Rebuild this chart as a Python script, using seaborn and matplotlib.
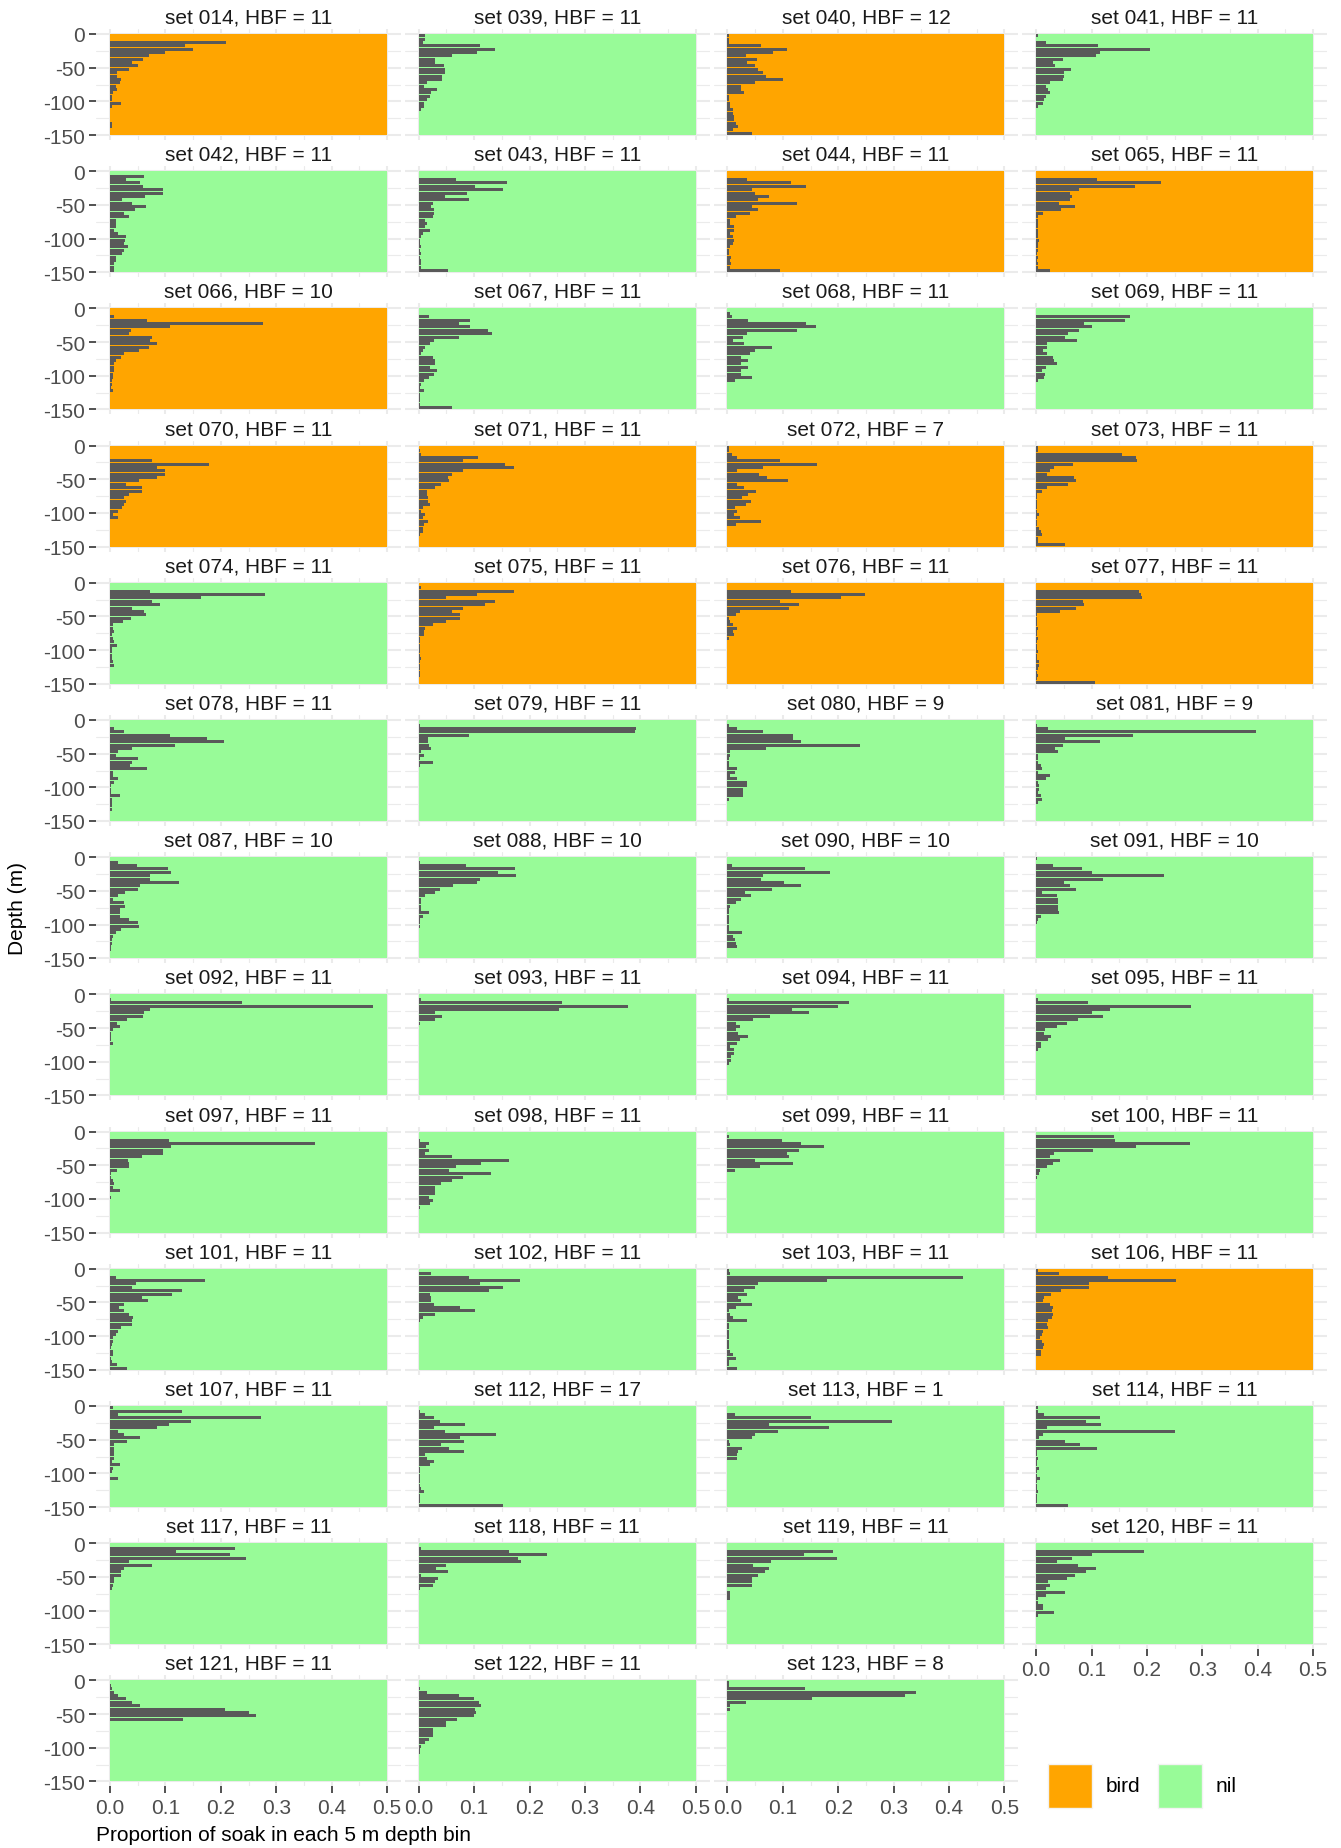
import numpy as np
import pandas as pd
import matplotlib
matplotlib.use("Agg")
import matplotlib.pyplot as plt
from matplotlib.patches import Rectangle
import seaborn as sns

# ---------------- data ----------------
sets = ["014", "039", "040", "041", "042", "043", "044", "065", "066", "067", "068", "069",
        "070", "071", "072", "073", "074", "075", "076", "077", "078", "079", "080", "081",
        "087", "088", "090", "091", "092", "093", "094", "095", "097", "098", "099", "100",
        "101", "102", "103", "106", "107", "112", "113", "114", "117", "118", "119", "120",
        "121", "122", "123"]
hbf = [11, 11, 12, 11, 11, 11, 11, 11, 10, 11, 11, 11,
       11, 11, 7, 11, 11, 11, 11, 11, 11, 11, 9, 9,
       10, 10, 10, 10, 11, 11, 11, 11, 11, 11, 11, 11,
       11, 11, 11, 11, 11, 17, 1, 11, 11, 11, 11, 11,
       11, 11, 8]
bait = ["bird", "nil", "bird", "nil", "nil", "nil", "bird", "bird", "bird", "nil", "nil", "nil",
        "bird", "bird", "bird", "bird", "nil", "bird", "bird", "bird", "nil", "nil", "nil", "nil",
        "nil", "nil", "nil", "nil", "nil", "nil", "nil", "nil", "nil", "nil", "nil", "nil",
        "nil", "nil", "nil", "bird", "nil", "nil", "nil", "nil", "nil", "nil", "nil", "nil",
        "nil", "nil", "nil"]

# proportion of soak per 5 m depth bin, from the surface (0-5 m) downwards
p014 = [0, 0, 0.21, 0.135, 0.15, 0.10, 0.07, 0.06, 0.04, 0.05, 0.035, 0.013, 0.013, 0.02, 0.018, 0.01, 0.012, 0.005, 0.003, 0.004, 0.02, 0.004, 0, 0, 0, 0, 0.003, 0.003]
p039 = [0.012, 0.012, 0.008, 0.11, 0.137, 0.105, 0.06, 0.03, 0.03, 0.045, 0.047, 0.047, 0.042, 0.042, 0.015, 0.01, 0.033, 0.023, 0.02, 0.015, 0.01, 0.01, 0.005]
p040 = [0.003, 0.003, 0.003, 0.06, 0.108, 0.082, 0.033, 0.053, 0.035, 0.05, 0.055, 0.065, 0.07, 0.1, 0.05, 0.025, 0.025, 0.03, 0.003, 0.003, 0.004, 0.005, 0.01, 0.01, 0.012, 0.012, 0.015, 0.02, 0.01, 0.045]
p041 = [0.003, 0, 0.018, 0.111, 0.206, 0.115, 0.108, 0.048, 0.03, 0.035, 0.063, 0.05, 0.05, 0.048, 0.025, 0.018, 0.022, 0.025, 0.018, 0.015, 0.012, 0.003]
p042 = [0, 0.062, 0.028, 0.055, 0.06, 0.095, 0.095, 0.063, 0.022, 0.04, 0.065, 0.045, 0.025, 0.035, 0.01, 0.01, 0.01, 0.008, 0.015, 0.028, 0.027, 0.025, 0.033, 0.025, 0.022, 0.01, 0.01, 0.008, 0.007, 0.007]
p043 = [0, 0, 0.068, 0.16, 0.102, 0.152, 0.087, 0.048, 0.09, 0.025, 0.022, 0.028, 0.028, 0.025, 0.012, 0.015, 0.012, 0.02, 0.007, 0.005, 0.003, 0.003, 0.005, 0.003, 0.005, 0.003, 0.005, 0.005, 0.005, 0.052]
p044 = [0, 0, 0.035, 0.115, 0.142, 0.045, 0.05, 0.075, 0.055, 0.125, 0.045, 0.055, 0.04, 0.015, 0.005, 0.005, 0.012, 0.012, 0.005, 0.01, 0.012, 0.01, 0.005, 0.003, 0.002, 0.007, 0.005, 0.007, 0.005, 0.095]
p065 = [0, 0, 0.11, 0.225, 0.178, 0.078, 0.062, 0.065, 0.062, 0.042, 0.07, 0.045, 0.012, 0.003, 0.003, 0.003, 0.003, 0.003, 0.003, 0.003, 0.005, 0.003, 0.003, 0.003, 0.002, 0.003, 0.002, 0.003, 0.003, 0.025]
p066 = [0, 0, 0.008, 0.067, 0.277, 0.108, 0.038, 0.035, 0.075, 0.073, 0.085, 0.07, 0.052, 0.025, 0.02, 0.01, 0.008, 0.008, 0.008, 0.005, 0.005, 0.003, 0.003, 0.002, 0.005]
p067 = [0, 0, 0.018, 0.093, 0.073, 0.092, 0.125, 0.132, 0.072, 0.027, 0.02, 0.012, 0.008, 0.005, 0.025, 0.03, 0.03, 0.02, 0.033, 0.028, 0.018, 0.01, 0.005, 0.003, 0.01, 0.003, 0.003, 0.002, 0.002, 0.06]
p068 = [0, 0.005, 0.008, 0.038, 0.142, 0.16, 0.125, 0.035, 0.028, 0.01, 0.03, 0.08, 0.05, 0.04, 0.025, 0.038, 0.025, 0.038, 0.025, 0.025, 0.045, 0.014]
p069 = [0, 0, 0.17, 0.16, 0.087, 0.1, 0.077, 0.058, 0.052, 0.073, 0.02, 0.02, 0.013, 0.02, 0.03, 0.033, 0.038, 0.018, 0.01, 0.016, 0.015, 0.004]
p070 = [0, 0, 0, 0, 0.075, 0.178, 0.085, 0.1, 0.1, 0.085, 0.052, 0.028, 0.058, 0.058, 0.035, 0.025, 0.028, 0.025, 0.022, 0.015, 0.005, 0.015]
p071 = [0, 0.003, 0.005, 0.107, 0.08, 0.155, 0.172, 0.08, 0.06, 0.052, 0.055, 0.04, 0.03, 0.015, 0.015, 0.016, 0.016, 0.02, 0.008, 0.005, 0.012, 0.007, 0.017, 0.01, 0.007, 0.007, 0.002]
p072 = [0.002, 0.002, 0.008, 0.018, 0.095, 0.162, 0.065, 0.017, 0.057, 0.072, 0.11, 0.017, 0.03, 0.052, 0.037, 0.027, 0.043, 0.033, 0.013, 0.018, 0.012, 0.022, 0.06, 0.016]
p073 = [0.003, 0.003, 0.155, 0.18, 0.182, 0.067, 0.032, 0.025, 0.02, 0.068, 0.072, 0.058, 0.02, 0.01, 0.002, 0.002, 0.002, 0.002, 0.002, 0.002, 0.005, 0.002, 0.002, 0.002, 0.005, 0.008, 0.01, 0.003, 0.003, 0.052]
p074 = [0, 0, 0.072, 0.28, 0.165, 0.075, 0.09, 0.04, 0.062, 0.065, 0.038, 0.024, 0.005, 0.005, 0.007, 0.003, 0.006, 0.008, 0.012, 0.003, 0.003, 0.004, 0.004, 0.006, 0.007]
p075 = [0, 0.005, 0.172, 0.105, 0.05, 0.137, 0.12, 0.08, 0.06, 0.075, 0.075, 0.05, 0.025, 0.012, 0.01, 0.01, 0.003, 0.003, 0.003, 0.002, 0.002, 0.003, 0.005, 0.002, 0.002, 0.002, 0.002, 0.002]
p076 = [0, 0, 0.115, 0.248, 0.205, 0.095, 0.13, 0.112, 0.022, 0.015, 0.003, 0.005, 0.01, 0.017, 0.01, 0.012, 0.003]
p077 = [0, 0, 0.185, 0.19, 0.192, 0.085, 0.087, 0.072, 0.043, 0.002, 0.002, 0.002, 0.002, 0.003, 0.002, 0.002, 0.003, 0.002, 0.002, 0.002, 0.003, 0.002, 0.002, 0.005, 0.005, 0.003, 0.002, 0.003, 0.002, 0.107]
p078 = [0, 0, 0.008, 0.025, 0.108, 0.175, 0.205, 0.118, 0.04, 0.015, 0.01, 0.05, 0.04, 0.037, 0.067, 0.005, 0.005, 0.015, 0.007, 0.002, 0.002, 0.002, 0.018, 0.003, 0.003, 0.003, 0.003]
p079 = [0, 0.003, 0.393, 0.39, 0.09, 0.016, 0.016, 0.018, 0.022, 0.005, 0.01, 0.003, 0.025, 0.002]
p080 = [0, 0.003, 0.018, 0.065, 0.118, 0.118, 0.132, 0.24, 0.07, 0.005, 0.005, 0.003, 0.003, 0.003, 0.018, 0.013, 0.005, 0.018, 0.035, 0.035, 0.028, 0.028, 0.028, 0.003]
p081 = [0, 0.002, 0.022, 0.397, 0.175, 0.052, 0.115, 0.048, 0.035, 0.04, 0.003, 0.003, 0.003, 0.008, 0.01, 0.003, 0.025, 0.018, 0.003, 0.005, 0.005, 0.003, 0.008, 0.01, 0.003]
p087 = [0, 0.015, 0.048, 0.105, 0.11, 0.072, 0.072, 0.125, 0.055, 0.05, 0.027, 0.015, 0.005, 0.025, 0.027, 0.018, 0.018, 0.018, 0.035, 0.05, 0.052, 0.02, 0.01, 0.005, 0.004, 0.003, 0.002, 0.002]
p088 = [0, 0.003, 0.085, 0.173, 0.143, 0.175, 0.11, 0.105, 0.062, 0.038, 0.03, 0.012, 0.005, 0.005, 0.005, 0.005, 0.018, 0.008, 0.003, 0.003, 0.002]
p090 = [0, 0, 0.008, 0.14, 0.185, 0.065, 0.06, 0.102, 0.133, 0.08, 0.032, 0.042, 0.025, 0.015, 0.005, 0.002, 0.002, 0.002, 0.002, 0.002, 0.003, 0.003, 0.027, 0.01, 0.013, 0.015, 0.017]
p091 = [0.002, 0, 0.03, 0.082, 0.1, 0.23, 0.12, 0.05, 0.062, 0.072, 0.01, 0.038, 0.04, 0.04, 0.04, 0.04, 0.042, 0.008, 0.004, 0.002]
p092 = [0, 0.002, 0.238, 0.475, 0.072, 0.062, 0.06, 0.03, 0.013, 0.018, 0.005, 0.002, 0.002, 0.002, 0.005]
p093 = [0, 0.005, 0.258, 0.378, 0.253, 0.03, 0.042, 0.03, 0.003]
p094 = [0, 0.003, 0.22, 0.2, 0.117, 0.147, 0.077, 0.047, 0.015, 0.022, 0.015, 0.02, 0.038, 0.022, 0.018, 0.005, 0.012, 0.012, 0.007, 0.007, 0.002]
p095 = [0, 0.003, 0.093, 0.28, 0.133, 0.1, 0.12, 0.075, 0.056, 0.038, 0.016, 0.015, 0.026, 0.022, 0.008, 0.008, 0.003]
p097 = [0, 0, 0.107, 0.37, 0.11, 0.095, 0.095, 0.058, 0.032, 0.035, 0.035, 0.012, 0.002, 0.002, 0.005, 0.007, 0.005, 0.018, 0, 0.002]
p098 = [0, 0, 0.003, 0.018, 0.013, 0.018, 0.012, 0.06, 0.163, 0.112, 0.068, 0.055, 0.13, 0.08, 0.06, 0.04, 0.03, 0.03, 0.03, 0.018, 0.025, 0.02, 0.003]
p099 = [0, 0.002, 0.098, 0.133, 0.174, 0.13, 0.108, 0.112, 0.05, 0.118, 0.058, 0.014]
p100 = [0, 0.14, 0.143, 0.277, 0.18, 0.102, 0.033, 0.025, 0.043, 0.03, 0.02, 0.007, 0.005, 0.002]
p101 = [0, 0, 0.01, 0.172, 0.047, 0.04, 0.13, 0.112, 0.058, 0.068, 0.025, 0.016, 0.025, 0.035, 0.042, 0.04, 0.04, 0.02, 0.015, 0.01, 0.005, 0.005, 0.003, 0.002, 0.005, 0.005, 0.002, 0.003, 0.012, 0.03]
p102 = [0, 0.022, 0.09, 0.183, 0.11, 0.152, 0.127, 0.02, 0.022, 0.022, 0.028, 0.075, 0.102, 0.03, 0.008, 0.002]
p103 = [0.003, 0.005, 0.425, 0.18, 0.055, 0.05, 0.03, 0.035, 0.02, 0.025, 0.045, 0.015, 0.003, 0.005, 0.01, 0.035, 0.003, 0.002, 0.002, 0.002, 0.002, 0.003, 0.003, 0.002, 0.005, 0.01, 0.015, 0.003, 0.003, 0.017]
p106 = [0.003, 0.042, 0.13, 0.253, 0.095, 0.095, 0.045, 0.027, 0.015, 0.012, 0.025, 0.03, 0.028, 0.03, 0.028, 0.022, 0.02, 0.022, 0.012, 0.01, 0.007, 0.01, 0.015, 0.012, 0.008, 0.008]
p107 = [0.005, 0.13, 0.015, 0.272, 0.147, 0.107, 0.085, 0.015, 0.025, 0.055, 0.03, 0.008, 0.008, 0.008, 0.008, 0.008, 0.003, 0.018, 0.005, 0.003, 0, 0.015]
p112 = [0, 0.003, 0.012, 0.028, 0.038, 0.083, 0.028, 0.047, 0.14, 0.075, 0.082, 0.04, 0.055, 0.082, 0.012, 0.015, 0.028, 0.02, 0.002, 0.002, 0.002, 0.002, 0.002, 0.002, 0.005, 0.01, 0.002, 0.002, 0.002, 0.152]
p113 = [0, 0, 0.013, 0.15, 0.297, 0.075, 0.183, 0.092, 0.05, 0.045, 0.003, 0.005, 0.027, 0.02, 0.017, 0.017]
p114 = [0.003, 0.003, 0.015, 0.115, 0.09, 0.117, 0.02, 0.25, 0.012, 0.005, 0.053, 0.08, 0.11, 0.002, 0.002, 0.003, 0.002, 0.002, 0.005, 0.002, 0.002, 0.007, 0.002, 0.002, 0.002, 0.003, 0.002, 0.002, 0.002, 0.058]
p117 = [0, 0.225, 0.12, 0.217, 0.245, 0.035, 0.075, 0.025, 0.02, 0.02, 0.008, 0.008, 0.005, 0.003]
p118 = [0, 0.005, 0.163, 0.232, 0.18, 0.185, 0.05, 0.032, 0.052, 0.005, 0.035, 0.03, 0.025, 0.002]
p119 = [0, 0, 0.19, 0.138, 0.197, 0.078, 0.047, 0.075, 0.068, 0.055, 0.045, 0.045, 0.045, 0, 0.005, 0.005, 0.004]
p120 = [0, 0, 0.195, 0.1, 0.065, 0.037, 0.075, 0.108, 0.09, 0.07, 0.055, 0.022, 0.025, 0.018, 0.052, 0.017, 0.003, 0.003, 0.012, 0.012, 0.033, 0.003]
p121 = [0, 0.002, 0.003, 0.008, 0.015, 0.028, 0.04, 0.055, 0.208, 0.25, 0.263, 0.132]
p122 = [0, 0, 0.003, 0.015, 0.072, 0.1, 0.108, 0.113, 0.102, 0.103, 0.1, 0.07, 0.05, 0.05, 0.025, 0.025, 0.025, 0.018, 0.012, 0.005, 0.002, 0.002]
p123 = [0.002, 0.002, 0.14, 0.34, 0.32, 0.152, 0.033, 0.005, 0.004]

profiles = [p014, p039, p040, p041, p042, p043, p044, p065, p066, p067, p068, p069,
            p070, p071, p072, p073, p074, p075, p076, p077, p078, p079, p080, p081,
            p087, p088, p090, p091, p092, p093, p094, p095, p097, p098, p099, p100,
            p101, p102, p103, p106, p107, p112, p113, p114, p117, p118, p119, p120,
            p121, p122, p123]

x_ticks = [0.0, 0.1, 0.2, 0.3, 0.4, 0.5]
x_ticklabels = ["0.0", "0.1", "0.2", "0.3", "0.4", "0.5"]
y_ticks = [-150, -100, -50, 0]
y_ticklabels = ["-150", "-100", "-50", "0"]
bait_colors = {"bird": "#FFA500", "nil": "#98FB98"}

# ---------------- style / layout ----------------
sns.set_theme(style="white")
plt.rcParams["font.family"] = ["Liberation Sans", "DejaVu Sans"]
plt.rcParams["axes.unicode_minus"] = False

W, H = 1341, 1849
fig = plt.figure(figsize=(W / 100, H / 100), dpi=100)
fig.patch.set_facecolor("white")

BIN = 5
rect_w, rect_h = 277.0, 101.0
col_x0, col_pitch = 110.0, 308.7
row_y0, row_pitch = 35.0, 137.2
FS = 15
grid_col = "#EBEBEB"
tick_col = "#333333"
lab_col = "#4D4D4D"

for i, (s, h, b, prof) in enumerate(zip(sets, hbf, bait, profiles)):
    r, c = divmod(i, 4)
    rl = col_x0 + c * col_pitch
    rt = row_y0 + r * row_pitch
    left = (rl - rect_w * 0.05) / W
    bottom = 1 - (rt + rect_h * 1.05) / H
    ax = fig.add_axes([left, bottom, rect_w * 1.1 / W, rect_h * 1.1 / H])
    ax.set_facecolor("white")

    df = pd.DataFrame({"depth": -BIN / 2 - BIN * np.arange(len(prof)), "prop": prof})
    ax.add_patch(Rectangle((0, -150), 0.5, 150, facecolor=bait_colors[b],
                           edgecolor="none", zorder=0.8))
    sns.histplot(data=df, y="depth", weights="prop", binwidth=BIN, binrange=(-150, 0),
                 shrink=0.9, color="#595959", alpha=1, linewidth=0, ax=ax, zorder=2)

    ax.set_xlim(-0.025, 0.525)
    ax.set_ylim(-157.5, 7.5)
    ax.set_xlabel("")
    ax.set_ylabel("")
    ax.set_xticks(x_ticks)
    ax.set_xticks([0.05, 0.15, 0.25, 0.35, 0.45], minor=True)
    ax.set_yticks(y_ticks)
    ax.set_yticks([-125, -75, -25], minor=True)
    ax.set_axisbelow(True)
    ax.grid(which="major", color=grid_col, linewidth=1.5)
    ax.grid(which="minor", color=grid_col, linewidth=0.8)
    for sp in ax.spines.values():
        sp.set_visible(False)
    ax.tick_params(which="minor", length=0)

    show_x = (r == 12) or (r == 11 and c == 3)
    if show_x:
        ax.set_xticklabels(x_ticklabels)
        ax.tick_params(axis="x", which="major", length=5, width=1.2, color=tick_col,
                       labelsize=FS, labelcolor=lab_col, pad=3, bottom=True)
    else:
        ax.tick_params(axis="x", which="major", length=0, labelbottom=False)
    if c == 0:
        ax.set_yticklabels(y_ticklabels)
        ax.tick_params(axis="y", which="major", length=5, width=1.2, color=tick_col,
                       labelsize=FS, labelcolor=lab_col, pad=3, left=True)
    else:
        ax.tick_params(axis="y", which="major", length=0, labelleft=False)

    fig.text((rl + rect_w / 2) / W, 1 - (rt - 17) / H, f"set {s}, HBF = {h}",
             ha="center", va="center", fontsize=FS, color="#1A1A1A")

# axis titles
fig.text(18 / W, 1 - 909 / H, "Depth (m)", rotation=90, ha="center", va="center",
         fontsize=FS, color="black")
fig.text(96 / W, 1 - 1836 / H, "Proportion of soak in each 5 m depth bin",
         ha="left", va="center", fontsize=FS, color="black")

# legend
for lab, x0, tx in [("bird", 1048, 1106), ("nil", 1158, 1216)]:
    fig.add_artist(Rectangle((x0 / W, 1 - 1809 / H), 44 / W, 44 / H,
                             transform=fig.transFigure, facecolor=bait_colors[lab],
                             edgecolor="#F2F2F2", linewidth=1))
    fig.text(tx / W, 1 - 1787 / H, lab, ha="left", va="center", fontsize=FS, color="black")

fig.savefig("out.png", dpi=100, facecolor="white")
